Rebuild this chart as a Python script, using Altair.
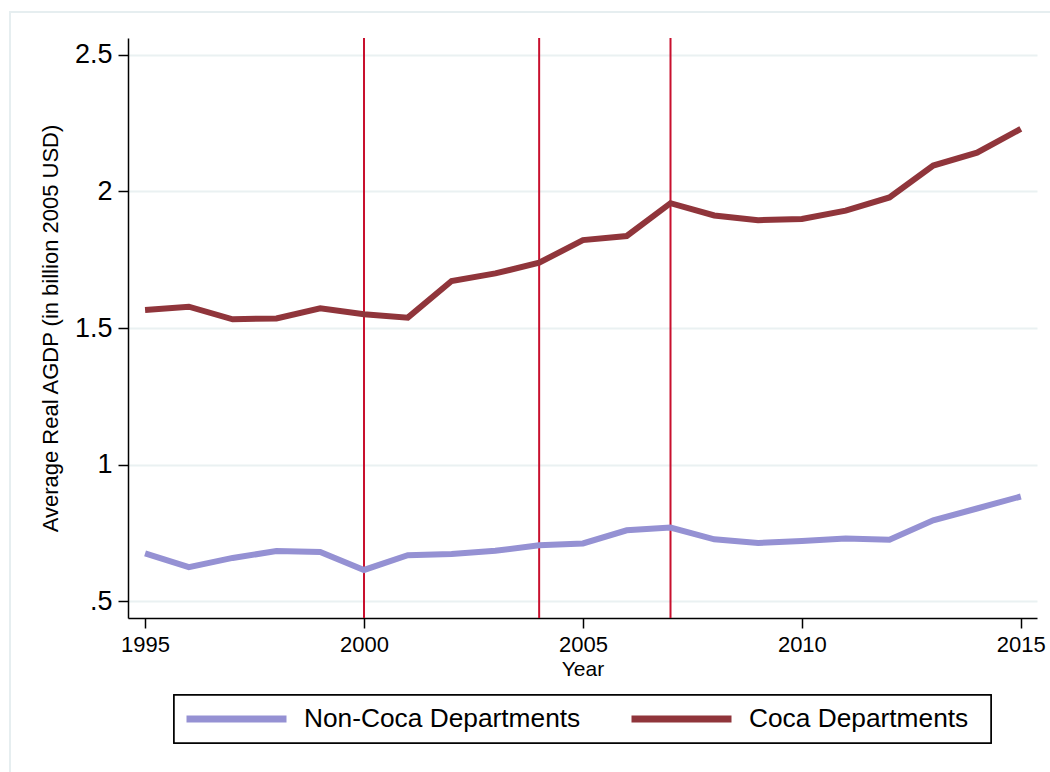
import altair as alt
import pandas as pd

# Average real AGDP (billion 2005 USD), by year
years = list(range(1995, 2016))
coca = [1.566, 1.578, 1.532, 1.535, 1.572, 1.550, 1.538, 1.672, 1.700, 1.739,
        1.822, 1.837, 1.957, 1.912, 1.895, 1.899, 1.930, 1.978, 2.095, 2.142, 2.229]
non_coca = [0.675, 0.624, 0.658, 0.683, 0.680, 0.614, 0.668, 0.672, 0.684, 0.704,
            0.711, 0.759, 0.769, 0.726, 0.713, 0.720, 0.729, 0.725, 0.796, 0.839, 0.883]

series_names = ["Non-Coca Departments", "Coca Departments"]
series_colors = ["#9591d3", "#90353b"]

# Policy years marked with vertical lines
event_years = [2000, 2004, 2007]

x_ticks = [1995, 2000, 2005, 2010, 2015]
y_ticks = [0.5, 1.0, 1.5, 2.0, 2.5]

rows = []
for y, v in zip(years, non_coca):
    rows.append({"year": y, "value": v, "group": series_names[0]})
for y, v in zip(years, coca):
    rows.append({"year": y, "value": v, "group": series_names[1]})
df = pd.DataFrame(rows)
events = pd.DataFrame({"year": event_years})

FONT = "Liberation Sans"
W, H = 909, 580

x_scale = alt.Scale(domain=[1994.61, 2015.37], nice=False, zero=False)
y_scale = alt.Scale(domain=[0.438, 2.562], nice=False, zero=False)

label_expr = "datum.value == 0.5 ? '.5' : datum.value == 1 ? '1' : datum.value == 1.5 ? '1.5' : datum.value == 2 ? '2' : '2.5'"

lines = alt.Chart(df).mark_line(strokeWidth=6, strokeCap="butt", strokeJoin="miter").encode(
    x=alt.X("year:Q", scale=x_scale,
            axis=alt.Axis(values=x_ticks, format="d", title="Year", grid=False,
                          labelFontSize=22, titleFontSize=21, labelPadding=6,
                          titlePadding=3, tickSize=10)),
    y=alt.Y("value:Q", scale=y_scale,
            axis=alt.Axis(values=y_ticks, labelExpr=label_expr,
                          title="Average Real AGDP (in billion 2005 USD)",
                          grid=True, labelFontSize=27, titleFontSize=22,
                          labelPadding=6, titlePadding=12, tickSize=10)),
    color=alt.Color("group:N", sort=series_names,
                    scale=alt.Scale(domain=series_names, range=series_colors),
                    legend=alt.Legend(title=None, orient="none", legendX=46, legendY=657,
                                      direction="horizontal", columns=2,
                                      symbolType="stroke", symbolSize=10000,
                                      symbolStrokeWidth=7, labelOffset=14,
                                      columnPadding=47, padding=9, clipHeight=30,
                                      labelFontSize=26.3, labelFont=FONT,
                                      labelLimit=0, labelColor="black")),
)

vlines = alt.Chart(events).mark_rule(color="#c8102e", strokeWidth=2).encode(
    x=alt.X("year:Q", scale=x_scale),
    y=alt.value(0),
    y2=alt.value(H),
)

# light outer frame around the whole graph
frame = alt.Chart(events).mark_rect(fill=None, stroke="#e6eef0", strokeWidth=2).encode(
    x=alt.value(-118), x2=alt.value(1050),
    y=alt.value(-26), y2=alt.value(900),
)

# box around the legend
legend_box = alt.Chart(events).mark_rect(fill="white", stroke="black", strokeWidth=1.5).encode(
    x=alt.value(46), x2=alt.value(863),
    y=alt.value(657), y2=alt.value(705),
)

chart = alt.layer(frame, legend_box, vlines, lines).properties(
    width=W, height=H,
    autosize=alt.AutoSizeParams(type="none"),
    padding={"left": 128, "top": 38, "right": 13, "bottom": 154},
    background="white",
).configure_view(stroke=None).configure_axis(
    labelFont=FONT, titleFont=FONT, labelColor="black", titleColor="black",
    titleFontWeight="normal", domainColor="black", domainWidth=1.5,
    tickColor="black", tickWidth=1.5, gridColor="#eaf1f2", gridWidth=2,
)

chart.save("out.html", embed_options={"renderer": "svg", "actions": False})
